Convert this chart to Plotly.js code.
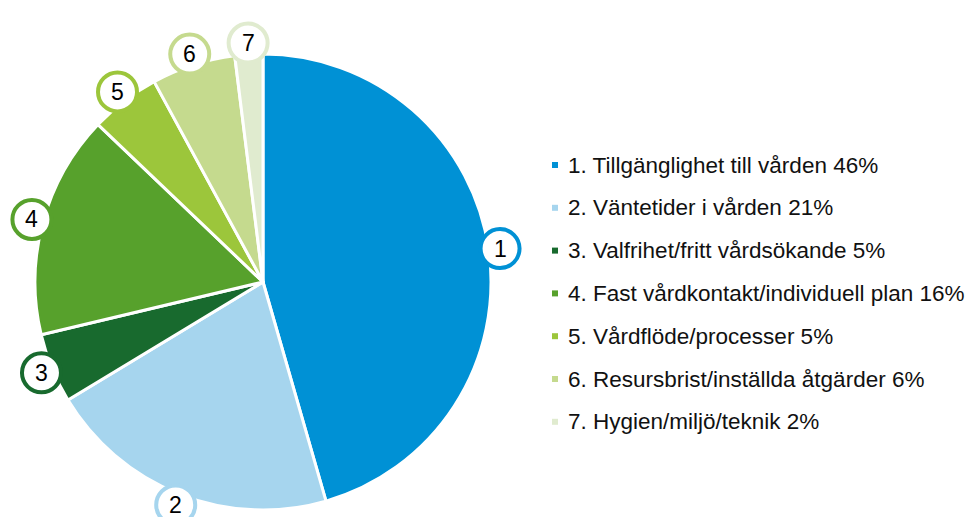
<!DOCTYPE html>
<html>
<head>
<meta charset="utf-8">
<script src="https://cdn.plot.ly/plotly-3.0.1.min.js"></script>
<style>html,body{margin:0;padding:0;background:#fff}#chart{width:968px;height:517px}</style>
</head>
<body>
<div id="chart"></div>
<script>
const categories = ["1. Tillgänglighet till vården", "2. Väntetider i vården", "3. Valfrihet/fritt vårdsökande", "4. Fast vårdkontakt/individuell plan", "5. Vårdflöde/processer", "6. Resursbrist/inställda åtgärder", "7. Hygien/miljö/teknik"];
const numbers = ["1", "2", "3", "4", "5", "6", "7"];
const values = [46, 21, 5, 16, 5, 6, 2];
const colors = ["#0091D5", "#A6D5EE", "#186A2E", "#57A12C", "#9CC63B", "#C5DA8E", "#E0EBCF"];

const W = 968, H = 517;
const cx = 263, cy = 282, R = 228;
const labelR = R * 1.05;
const font = "Liberation Sans, Arial, sans-serif";

const pie = {
  type: "pie",
  values: values,
  labels: categories,
  marker: {colors: colors, line: {color: "#ffffff", width: 3}},
  sort: false,
  direction: "clockwise",
  rotation: 0,
  textinfo: "none",
  hoverinfo: "label+value",
  showlegend: false,
  domain: {x: [(cx - R) / W, (cx + R) / W], y: [1 - (cy + R) / H, 1 - (cy - R) / H]}
};

const total = values.reduce((a, b) => a + b, 0);
const shapes = [];
const annotations = [];
let cum = 0;
values.forEach((v, i) => {
  const mid = (cum + v / 2) / total * 2 * Math.PI;
  cum += v;
  const px = cx + labelR * Math.sin(mid);
  const py = cy - labelR * Math.cos(mid);
  shapes.push({
    type: "circle", layer: "above",
    xref: "paper", yref: "paper", xsizemode: "pixel", ysizemode: "pixel",
    xanchor: px / W, yanchor: 1 - py / H,
    x0: -19.5, x1: 19.5, y0: -19.5, y1: 19.5,
    fillcolor: "#ffffff", line: {color: colors[i], width: 4}
  });
  annotations.push({
    xref: "paper", yref: "paper", x: px / W, y: 1 - py / H,
    xanchor: "center", yanchor: "middle", showarrow: false,
    text: numbers[i], font: {family: font, size: 23, color: "#000000"}
  });
});

// legend
const legX = 552, legY0 = 165, legDy = 42.8;
categories.forEach((c, i) => {
  const y = legY0 + i * legDy;
  shapes.push({
    type: "rect", layer: "above",
    xref: "paper", yref: "paper", xsizemode: "pixel", ysizemode: "pixel",
    xanchor: legX / W, yanchor: 1 - y / H,
    x0: 0, x1: 6, y0: -3, y1: 3,
    fillcolor: colors[i], line: {width: 0}
  });
  annotations.push({
    xref: "paper", yref: "paper", x: (legX + 14) / W, y: 1 - y / H,
    xanchor: "left", yanchor: "middle", showarrow: false,
    text: c + " " + values[i] + "%",
    font: {family: font, size: 22.5, color: "#111111"}
  });
});

const layout = {
  width: W, height: H,
  margin: {l: 0, r: 0, t: 0, b: 0},
  paper_bgcolor: "#ffffff",
  plot_bgcolor: "#ffffff",
  showlegend: false,
  shapes: shapes,
  annotations: annotations
};

Plotly.newPlot("chart", [pie], layout, {displayModeBar: false, staticPlot: true});
</script>
</body>
</html>
